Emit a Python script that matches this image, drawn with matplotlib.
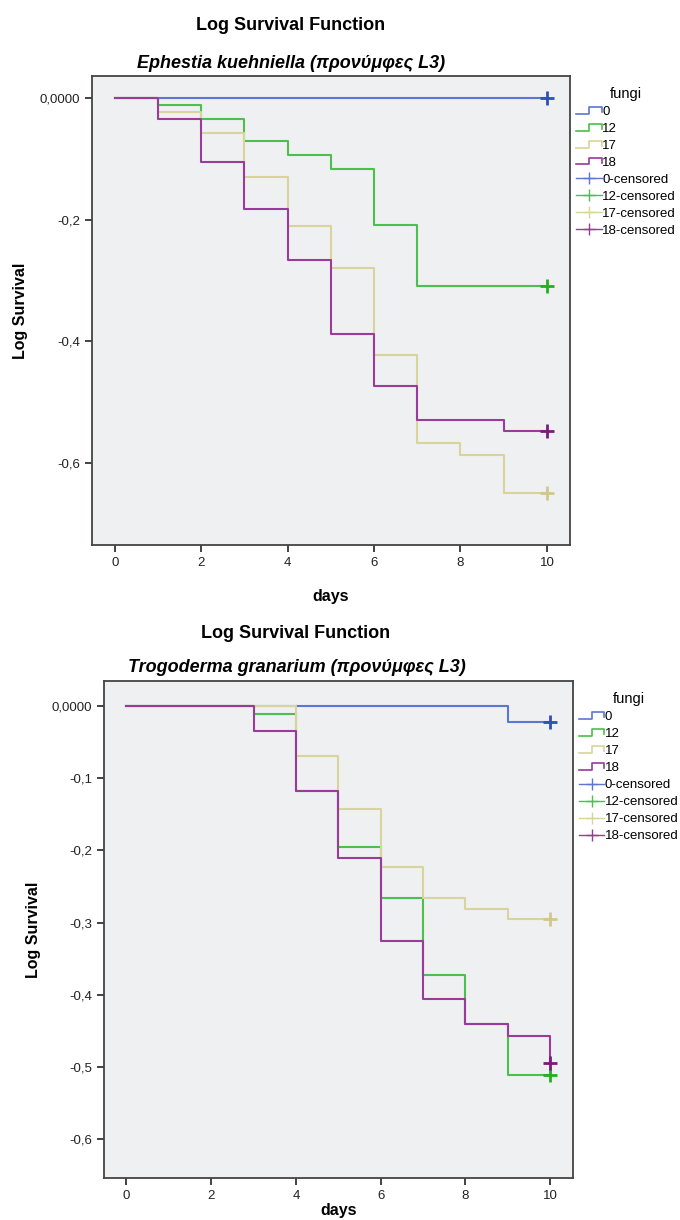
import matplotlib
matplotlib.use("Agg")
import matplotlib.pyplot as plt
from matplotlib.lines import Line2D
from matplotlib.legend_handler import HandlerBase

plt.rcParams['font.family'] = ['Liberation Sans', 'DejaVu Sans']

days = [0, 1, 2, 3, 4, 5, 6, 7, 8, 9, 10]
groups = ["0", "12", "17", "18"]
colors = ["#5a78d0", "#4cbf4c", "#d9d59a", "#9a3a9a"]
mark_colors = ["#2f4fb8", "#22b022", "#cfc88a", "#7d1a7d"]

# Ephestia kuehniella
eph_0 = [0, 0, 0, 0, 0, 0, 0, 0, 0, 0, 0]
eph_12 = [0, -0.011, -0.0345, -0.070, -0.093, -0.117, -0.209, -0.310, -0.310, -0.310, -0.310]
eph_17 = [0, -0.023, -0.057, -0.130, -0.210, -0.280, -0.422, -0.567, -0.588, -0.650, -0.650]
eph_18 = [0, -0.0345, -0.105, -0.182, -0.266, -0.389, -0.474, -0.530, -0.530, -0.548, -0.548]

# Trogoderma granarium
tro_0 = [0, 0, 0, 0, 0, 0, 0, 0, 0, -0.022, -0.022]
tro_12 = [0, 0, 0, -0.0106, -0.118, -0.196, -0.266, -0.373, -0.440, -0.511, -0.511]
tro_17 = [0, 0, 0, 0, -0.069, -0.143, -0.223, -0.266, -0.281, -0.295, -0.295]
tro_18 = [0, 0, 0, -0.034, -0.118, -0.210, -0.325, -0.406, -0.440, -0.457, -0.494]

xticks = [0, 2, 4, 6, 8, 10]
eph_yticks = [0, -0.2, -0.4, -0.6]
eph_ylabels = ["0,0000", "-0,2", "-0,4", "-0,6"]
tro_yticks = [0, -0.1, -0.2, -0.3, -0.4, -0.5, -0.6]
tro_ylabels = ["0,0000", "-0,1", "-0,2", "-0,3", "-0,4", "-0,5", "-0,6"]


class StepHandler(HandlerBase):
    def create_artists(self, legend, orig_handle, xdescent, ydescent,
                       width, height, fontsize, trans):
        xs = [0, 0.5 * width, 0.5 * width, width, width]
        ys = [0.15 * height, 0.15 * height, 0.85 * height, 0.85 * height, 0.35 * height]
        ln = Line2D(xs, ys, color=orig_handle.get_color(), lw=1.2, transform=trans)
        return [ln]


def draw_panel(ax, series, yticks, ylabels, ylim, xpad):
    ax.set_facecolor("#eff0f2")
    for vals, c, mc in zip(series, colors, mark_colors):
        ax.step(days, vals, where="post", color=c, lw=1.5)
        ax.plot(days[-1], vals[-1], marker="+", color=mc, markersize=10, mew=2)
    ax.set_xlim(-0.53, 10.53)
    ax.set_ylim(*ylim)
    ax.set_xticks(xticks, [str(x) for x in xticks])
    ax.set_yticks(yticks, ylabels)
    ax.tick_params(direction="out", length=5, width=1.2, labelsize=9.5, colors="#222222")
    for s in ax.spines.values():
        s.set_color("#444444")
        s.set_linewidth(1.3)
    ax.set_xlabel("days", fontsize=11.5, fontweight="bold", labelpad=xpad)
    ax.set_ylabel("Log Survival", fontsize=11.5, fontweight="bold", labelpad=8)

    handles = [Line2D([], [], color=c) for c in colors]
    handles += [Line2D([], [], color=c, marker="+", markersize=9, lw=1) for c in colors]
    labels = groups + [g + "-censored" for g in groups]
    hmap = {h: StepHandler() for h in handles[:4]}
    ax.legend(handles, labels, loc="upper left", bbox_to_anchor=(1.0, 0.99),
              frameon=False, title="fungi", fontsize=9.5, title_fontsize=10.5,
              handlelength=1.9, handletextpad=0.05, labelspacing=0.36,
              borderaxespad=0.1, handler_map=hmap)


fig = plt.figure(figsize=(6.8, 12.2), dpi=100)
fig.patch.set_facecolor("white")

ax1 = fig.add_axes([0.135, 0.553, 0.703, 0.385])
draw_panel(ax1, [eph_0, eph_12, eph_17, eph_18], eph_yticks, eph_ylabels, (-0.736, 0.037), 14)
ax2 = fig.add_axes([0.153, 0.0344, 0.689, 0.4076])
draw_panel(ax2, [tro_0, tro_12, tro_17, tro_18], tro_yticks, tro_ylabels, (-0.654, 0.035), 1)

fig.text(0.428, 1 - 25 / 1220, "Log Survival Function", ha="center", va="center",
         fontsize=13, fontweight="bold")
fig.text(0.428, 1 - 64 / 1220, "Ephestia kuehniella (προνύμφες L3)", ha="center", va="center",
         fontsize=13, fontweight="bold", fontstyle="italic")
fig.text(0.435, 1 - 634 / 1220, "Log Survival Function", ha="center", va="center",
         fontsize=13, fontweight="bold")
fig.text(0.437, 1 - 668 / 1220, "Trogoderma granarium (προνύμφες L3)", ha="center", va="center",
         fontsize=13, fontweight="bold", fontstyle="italic")

fig.savefig("out.png", dpi=100)
